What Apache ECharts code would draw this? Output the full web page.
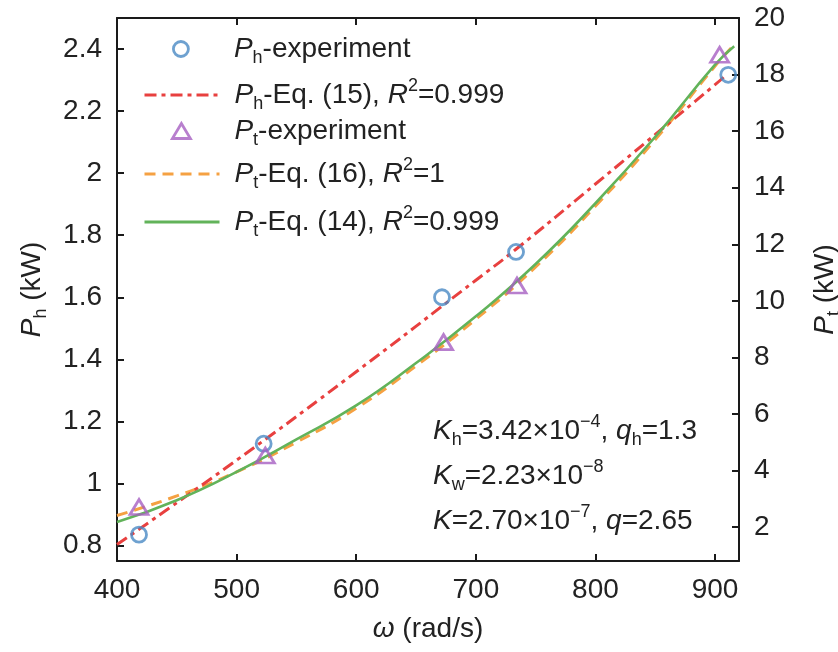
<!DOCTYPE html>
<html>
<head>
<meta charset="utf-8">
<script src="https://cdn.jsdelivr.net/npm/echarts@6/dist/echarts.min.js"></script>
<style>
html,body{margin:0;padding:0;background:#fff;}
#chart{width:838px;height:652px;}
</style>
</head>
<body>
<div id="chart"></div>
<script>
// ---- data ----
const omegaTicks = [400, 500, 600, 700, 800, 900];
const phTicks = [0.8, 1, 1.2, 1.4, 1.6, 1.8, 2, 2.2, 2.4];
const ptTicks = [2, 4, 6, 8, 10, 12, 14, 16, 18, 20];

const phExpOmega = [418.4, 522.6, 671.7, 733.6, 911];
const phExp      = [0.835, 1.128, 1.600, 1.746, 2.317];

const ptExpOmega = [418.4, 524, 673, 734.4, 903.8];
const ptExp      = [2.71, 4.53, 8.54, 10.54, 18.7];

const eq15Omega = [400, 500, 600, 700, 733, 800, 900, 908];
const eq15Ph    = [0.803, 1.075, 1.36, 1.655, 1.753, 1.965, 2.285, 2.312];

const eq16Omega = [400, 450, 500, 550, 600, 650, 700, 750, 800, 850, 900, 916];
const eq16Pt    = [2.41, 3.1, 3.95, 5.0, 6.2, 7.7, 9.35, 11.2, 13.35, 15.7, 18.3, 19.05];

const eq14Omega = [400, 450, 500, 550, 600, 650, 700, 750, 800, 850, 900, 916];
const eq14Pt    = [2.18, 2.95, 3.95, 5.1, 6.3, 7.8, 9.45, 11.3, 13.45, 15.8, 18.35, 19.0];

const names = ['Ph-experiment', 'Ph-Eq. (15)', 'Pt-experiment', 'Pt-Eq. (16)', 'Pt-Eq. (14)'];
const legendLabels = {
  'Ph-experiment': '{i|P}{sub|h}{n|-experiment}',
  'Ph-Eq. (15)': '{i|P}{sub|h}{n|-Eq. (15), }{i|R}{sup|2}{n|=0.999}',
  'Pt-experiment': '{i|P}{sub|t}{n|-experiment}',
  'Pt-Eq. (16)': '{i|P}{sub|t}{n|-Eq. (16), }{i|R}{sup|2}{n|=1}',
  'Pt-Eq. (14)': '{i|P}{sub|t}{n|-Eq. (14), }{i|R}{sup|2}{n|=0.999}'
};
const legendCenters = [53, 98, 135, 177, 225];

const zip = (a, b) => a.map((v, i) => [v, b[i]]);

const FONT = 'Liberation Sans';
const TXT = '#222';
const FS = 28, SS = 18, LH = 36;
const rich = {
  i: {fontStyle: 'italic', fontSize: FS, lineHeight: LH, fontFamily: FONT, color: TXT},
  n: {fontSize: FS, lineHeight: LH, fontFamily: FONT, color: TXT},
  sub: {fontSize: SS, lineHeight: SS, verticalAlign: 'bottom', fontFamily: FONT, color: TXT},
  sup: {fontSize: SS, lineHeight: SS, verticalAlign: 'top', fontFamily: FONT, color: TXT}
};
const zrich = {
  i: {fontStyle: 'italic', fontSize: FS, lineHeight: LH, fontFamily: FONT, fill: TXT},
  n: {fontSize: FS, lineHeight: LH, fontFamily: FONT, fill: TXT},
  sub: {fontSize: SS, lineHeight: SS, verticalAlign: 'bottom', fontFamily: FONT, fill: TXT},
  sup: {fontSize: SS, lineHeight: SS, verticalAlign: 'top', fontFamily: FONT, fill: TXT}
};

const AX = '#1a1a1a';
const C_BLUE = '#4a8ac4', C_RED = '#e8403f', C_PURP = '#a65fc2', C_ORG = '#f5a142', C_GRN = '#62b35a';
const DASH_RED = [12, 5, 4, 5], DASH_ORG = [11, 7];
const fmt = v => String(+(+v).toFixed(2));

const chart = echarts.init(document.getElementById('chart'), null, {renderer: 'canvas'});

// legend geometry: line icons span x 143..218, symbols centred at x 180, text starts at x 233
const legendCfg = [
  {w: 16, color: C_BLUE, scatter: true},
  {w: 75, color: C_RED, dash: DASH_RED},
  {w: 18, color: C_PURP, scatter: true},
  {w: 75, color: C_ORG, dash: DASH_ORG},
  {w: 75, color: C_GRN, dash: 'solid'}
];
const legends = names.map((n, k) => {
  const c = legendCfg[k];
  const left = c.scatter ? 180 - c.w / 2 : 143;
  const pad = 233 - (left + c.w + 5);
  const hasSup = legendLabels[n].indexOf('sup') >= 0;
  const lg = {
    data: [n], left: left, top: legendCenters[k] - LH / 2 - (hasSup ? 3 : 0),
    padding: 0, orient: 'vertical', itemWidth: c.w, itemHeight: c.scatter ? 15 : 14,
    selectedMode: false,
    formatter: name => legendLabels[name],
    textStyle: {fontFamily: FONT, fontSize: FS, color: TXT, rich: rich, padding: [0, 0, 0, pad]}
  };
  if (c.scatter) {
    lg.itemStyle = {color: 'rgba(255,255,255,0)', borderColor: c.color, borderWidth: 2.8};
  } else {
    lg.itemStyle = {color: 'rgba(0,0,0,0)', borderColor: 'rgba(0,0,0,0)', borderWidth: 0, opacity: 0};
    lg.lineStyle = {color: c.color, width: 3, type: c.dash};
  }
  return lg;
});

const annot = [
  '{i|K}{sub|h}{n|=3.42×10}{sup|−4}{n|, }{i|q}{sub|h}{n|=1.3}',
  '{i|K}{sub|w}{n|=2.23×10}{sup|−8}',
  '{i|K}{n|=2.70×10}{sup|−7}{n|, }{i|q}{n|=2.65}'
];
const annotCenters = [431, 476, 521];

chart.setOption({
  animation: false,
  backgroundColor: '#fff',
  grid: {left: 117, top: 18, right: 99, bottom: 91, containLabel: false, outerBoundsMode: 'none'},
  legend: legends,
  graphic: annot.map((t, k) => ({
    type: 'text', left: 433, top: annotCenters[k] - LH / 2,
    style: {text: t, rich: zrich, fontFamily: FONT, fontSize: FS, fill: TXT}
  })),
  xAxis: [{
    type: 'value', min: 400, max: 920, position: 'bottom',
    name: '{i|ω}{n| (rad/s)}', nameLocation: 'middle', nameGap: 50,
    nameTextStyle: {rich: rich, fontFamily: FONT, fontSize: FS, color: TXT},
    axisLine: {show: true, onZero: false, lineStyle: {color: AX, width: 2}},
    axisTick: {show: true, inside: true, length: 7, customValues: omegaTicks, lineStyle: {color: AX, width: 2}},
    axisLabel: {customValues: omegaTicks, margin: 15, fontFamily: FONT, fontSize: FS, color: TXT, formatter: fmt},
    splitLine: {show: false}
  }, {
    type: 'value', min: 400, max: 920, position: 'top',
    axisLine: {show: true, onZero: false, lineStyle: {color: AX, width: 2}},
    axisTick: {show: true, inside: true, length: 7, customValues: omegaTicks, lineStyle: {color: AX, width: 2}},
    axisLabel: {show: false},
    splitLine: {show: false}
  }],
  yAxis: [{
    type: 'value', min: 0.75, max: 2.5, position: 'left',
    name: '{i|P}{sub|h}{n| (kW)}', nameLocation: 'middle', nameGap: 67, nameRotate: 90,
    nameTextStyle: {rich: rich, fontFamily: FONT, fontSize: FS, color: TXT},
    axisLine: {show: true, onZero: false, lineStyle: {color: AX, width: 2}},
    axisTick: {show: true, inside: true, length: 7, customValues: phTicks, lineStyle: {color: AX, width: 2}},
    axisLabel: {customValues: phTicks, margin: 15, fontFamily: FONT, fontSize: FS, color: TXT, formatter: fmt},
    splitLine: {show: false}
  }, {
    type: 'value', min: 0.8, max: 20, position: 'right',
    name: '{i|P}{sub|t}{n| (kW)}', nameLocation: 'middle', nameGap: 68, nameRotate: 90,
    nameTextStyle: {rich: rich, fontFamily: FONT, fontSize: FS, color: TXT},
    axisLine: {show: true, onZero: false, lineStyle: {color: AX, width: 2}},
    axisTick: {show: true, inside: true, length: 7, customValues: ptTicks, lineStyle: {color: AX, width: 2}},
    axisLabel: {customValues: ptTicks, margin: 15, fontFamily: FONT, fontSize: FS, color: TXT, formatter: fmt},
    splitLine: {show: false}
  }],
  series: [{
    name: names[0], type: 'scatter', xAxisIndex: 0, yAxisIndex: 0,
    data: zip(phExpOmega, phExp), symbol: 'circle', symbolSize: 15, z: 5,
    itemStyle: {color: 'rgba(255,255,255,0)', borderColor: C_BLUE, borderWidth: 2.8}
  }, {
    name: names[1], type: 'line', xAxisIndex: 0, yAxisIndex: 0,
    data: zip(eq15Omega, eq15Ph), smooth: true, symbol: 'none', z: 4,
    lineStyle: {color: C_RED, width: 3, type: DASH_RED}, itemStyle: {color: C_RED}
  }, {
    name: names[2], type: 'scatter', xAxisIndex: 0, yAxisIndex: 1,
    data: zip(ptExpOmega, ptExp), symbol: 'triangle', symbolSize: [18, 15], z: 5,
    itemStyle: {color: 'rgba(255,255,255,0)', borderColor: C_PURP, borderWidth: 2.8}
  }, {
    name: names[3], type: 'line', xAxisIndex: 0, yAxisIndex: 1,
    data: zip(eq16Omega, eq16Pt), smooth: true, symbol: 'none', z: 3,
    lineStyle: {color: C_ORG, width: 3, type: DASH_ORG}, itemStyle: {color: C_ORG}
  }, {
    name: names[4], type: 'line', xAxisIndex: 0, yAxisIndex: 1,
    data: zip(eq14Omega, eq14Pt), smooth: true, symbol: 'none', z: 4,
    lineStyle: {color: C_GRN, width: 2.6, type: 'solid'}, itemStyle: {color: C_GRN}
  }]
});
</script>
</body>
</html>
